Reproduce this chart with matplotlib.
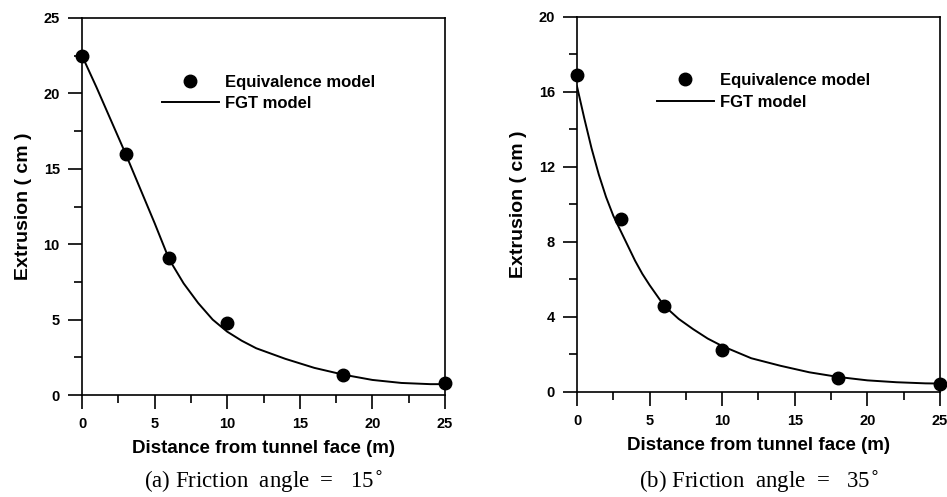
import numpy as np
import matplotlib
matplotlib.use('Agg')
import matplotlib.pyplot as plt
from matplotlib.ticker import MultipleLocator

plt.rcParams['font.family'] = ['Liberation Sans', 'DejaVu Sans']

# (a) friction angle 15 deg
pts_x = [0, 3, 6, 10, 18, 25]
eq_a = [22.5, 16.0, 9.1, 4.8, 1.35, 0.8]
fgt_x_a = [0, 1, 2, 3, 4, 5, 6, 7, 8, 9, 10, 11, 12, 14, 16, 18, 20, 22, 24, 25]
fgt_a = [22.5, 20.4, 18.2, 16.0, 13.7, 11.4, 9.0, 7.4, 6.1, 5.0, 4.2,
         3.6, 3.1, 2.4, 1.8, 1.35, 1.0, 0.8, 0.72, 0.72]

# (b) friction angle 35 deg
eq_b = [16.9, 9.2, 4.6, 2.25, 0.76, 0.45]
fgt_x_b = [0, 0.5, 1, 1.5, 2, 2.5, 3, 3.5, 4, 4.5, 5, 6, 7, 8, 9, 10,
           12, 14, 16, 18, 20, 22, 24, 25]
fgt_b = [16.3, 14.6, 13.0, 11.6, 10.4, 9.4, 8.6, 7.8, 7.0, 6.3, 5.7, 4.6,
         3.9, 3.35, 2.85, 2.45, 1.8, 1.4, 1.05, 0.8, 0.62, 0.52, 0.46, 0.45]

panels = [
    dict(eq=eq_a, fx=fgt_x_a, fy=fgt_a, ymax=25, major=5, minor=2.5,
         caption='(a) Friction  angle  =   15$^{\\circ}$',
         pos=[0.0866, 0.2052, 0.3833, 0.7586]),
    dict(eq=eq_b, fx=fgt_x_b, fy=fgt_b, ymax=20, major=4, minor=2,
         caption='(b) Friction  angle  =   35$^{\\circ}$',
         pos=[0.6093, 0.2113, 0.3833, 0.7545]),
]

fig = plt.figure(figsize=(9.47, 4.97), dpi=100)

for p in panels:
    ax = fig.add_axes(p['pos'])
    ax.plot(p['fx'], p['fy'], 'k-', lw=1.4, label='FGT model')
    ax.plot(pts_x, p['eq'], 'o', color='black', ms=9, label='Equivalence model',
            clip_on=False, zorder=5)
    ax.set_xlim(0, 25)
    ax.set_ylim(0, p['ymax'])
    ax.xaxis.set_major_locator(MultipleLocator(5))
    ax.xaxis.set_minor_locator(MultipleLocator(2.5))
    ax.yaxis.set_major_locator(MultipleLocator(p['major']))
    ax.yaxis.set_minor_locator(MultipleLocator(p['minor']))
    ax.tick_params(which='major', direction='out', length=10, width=1.2,
                   labelsize=10.5, pad=6)
    ax.tick_params(which='minor', direction='out', length=6, width=1.2)
    for lab in ax.get_xticklabels() + ax.get_yticklabels():
        lab.set_fontweight('bold')
    for s in ax.spines.values():
        s.set_linewidth(1.2)
    ax.set_xlabel('Distance from tunnel face (m)', fontsize=13.5,
                  fontweight='bold', labelpad=6)
    ax.set_ylabel('Extrusion ( cm )', fontsize=14, fontweight='bold',
                  labelpad=8)
    h, l = ax.get_legend_handles_labels()
    ax.legend(h[::-1], l[::-1], loc='upper left', bbox_to_anchor=(0.22, 0.85),
              frameon=False, handlelength=3.4, handletextpad=0.4,
              labelspacing=0.4, borderpad=0, borderaxespad=0,
              prop={'weight': 'bold', 'size': 12})
    cx = p['pos'][0] + p['pos'][2] / 2
    fig.text(cx, 0.03, p['caption'], ha='center', va='center', fontsize=16.5,
             family=['Liberation Serif', 'DejaVu Serif'])

fig.savefig('out.png', dpi=100)
